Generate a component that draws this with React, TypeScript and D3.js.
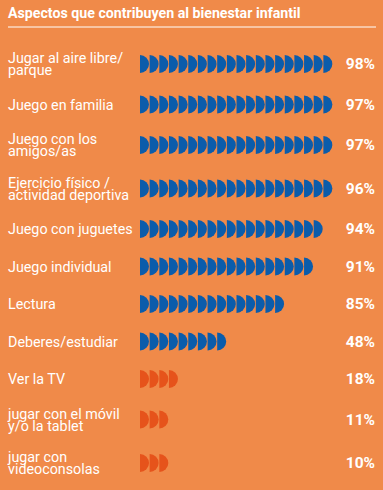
import React from "react";
import * as d3 from "d3";

const title = "Aspectos que contribuyen al bienestar infantil";
const labels: string[][] = [
  ["Jugar al aire libre/", "parque"],
  ["Juego en familia"],
  ["Juego con los", "amigos/as"],
  ["Ejercicio físico /", "actividad deportiva"],
  ["Juego con juguetes"],
  ["Juego individual"],
  ["Lectura"],
  ["Deberes/estudiar"],
  ["Ver la TV"],
  ["jugar con el móvil", "y/o la tablet"],
  ["jugar con", "videoconsolas"],
];
const values = [98, 97, 97, 96, 94, 91, 85, 48, 18, 11, 10];
const iconCounts = [20, 20, 20, 20, 19, 18, 15, 9, 4, 3, 3];

const W = 383;
const H = 490;
const BG = "#F08A49";
const BLUE = "#0B5CAB";
const ORANGE = "#E6531B";
const FONT = "Roboto, 'Noto Sans', sans-serif";

export default function App() {
  // vertical layout: row gap grows with label line count
  const base = 37.5;
  const extra = 3;
  const centers: number[] = [];
  let y = 64;
  labels.forEach((l, i) => {
    if (i > 0) {
      y += base + extra * (labels[i - 1].length - 1 + l.length - 1);
    }
    centers.push(y);
  });

  const step = 9.65;
  const x = d3.scaleLinear().domain([0, 1]).range([140, 140 + step]);
  const r = 9;
  const half = d3.arc<any>()({
    innerRadius: 0,
    outerRadius: r,
    startAngle: 0,
    endAngle: Math.PI,
  } as any) as string;

  const lineH = 12;

  return (
    <svg
      width={W}
      height={H}
      style={{ position: "absolute", left: 0, top: 0, display: "block" }}
    >
      <rect width={W} height={H} fill={BG} />
      <text
        x={8}
        y={18}
        fill="#fff"
        fontFamily={FONT}
        fontWeight={700}
        fontSize={14.2}
      >
        {title}
      </text>
      <line x1={8} x2={376} y1={27} y2={27} stroke="#fff" strokeWidth={1} />
      {labels.map((lines, i) => {
        const cy = centers[i];
        const n = iconCounts[i];
        const color = values[i] >= 40 ? BLUE : ORANGE;
        const top = cy - ((lines.length - 1) * lineH) / 2;
        return (
          <g key={i}>
            <text
              fill="#fff"
              fontFamily={FONT}
              fontSize={14.3}
              dominantBaseline="central"
            >
              {lines.map((t, j) => (
                <tspan key={j} x={8} y={top + j * lineH}>
                  {t}
                </tspan>
              ))}
            </text>
            {d3.range(n).map((k) => (
              <path
                key={k}
                d={half}
                transform={`translate(${x(k)},${cy})`}
                fill={color}
              />
            ))}
            <text
              x={375}
              y={cy}
              fill="#fff"
              fontFamily={FONT}
              fontWeight={700}
              fontSize={15.5}
              textAnchor="end"
              dominantBaseline="central"
            >
              {values[i]}%
            </text>
          </g>
        );
      })}
    </svg>
  );
}
